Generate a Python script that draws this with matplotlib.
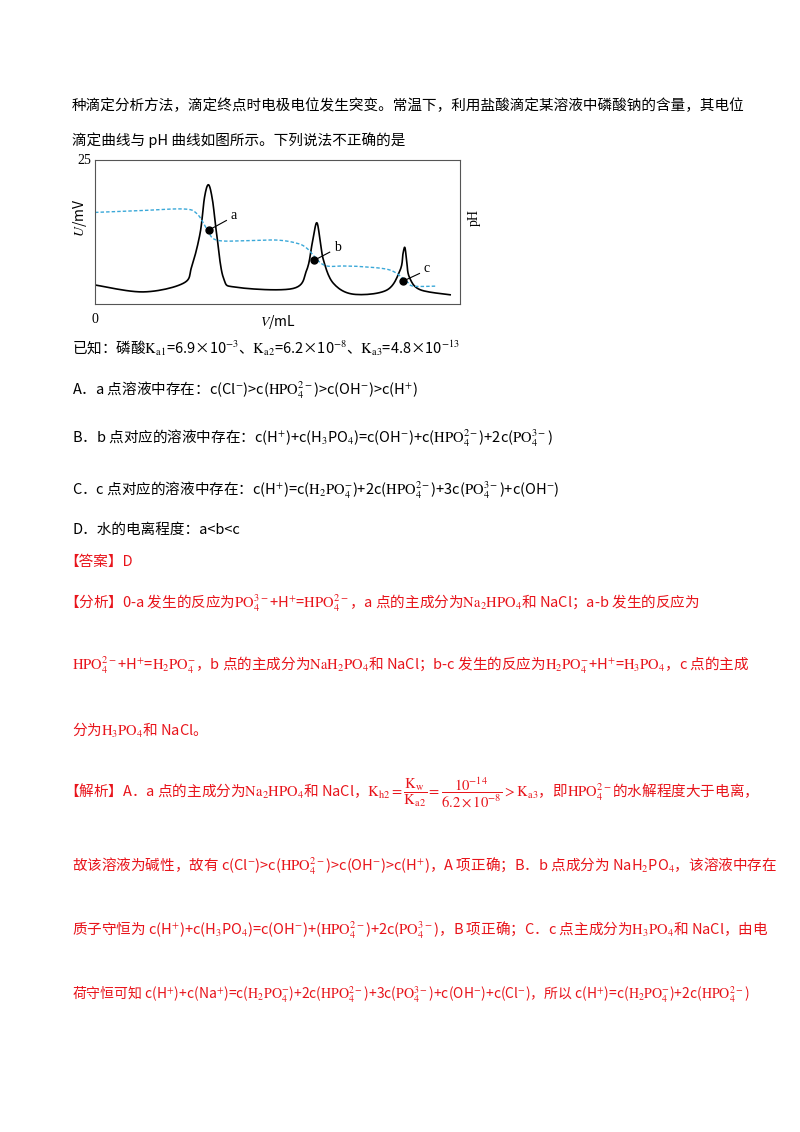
import matplotlib
matplotlib.use("Agg")
import matplotlib.pyplot as plt
import numpy as np

plt.rcParams['font.family'] = ['Noto Sans CJK SC', 'DejaVu Sans']
plt.rcParams['mathtext.fontset'] = 'stix'

# black potential curve (V, U)
u_x = [0, 13.2, 24.2, 26.5, 28.8, 30.0, 31.1, 32.2, 33.3, 35.2, 38.8, 54.3, 58.0, 59.5, 60.7, 61.6, 62.6, 65.3, 70.8, 79.9, 83.6, 84.4, 84.9, 85.4, 86.1, 89.0, 97.3]
u_y = [3.3, 2.1, 3.6, 6.5, 12.3, 18.5, 20.7, 18.0, 12.3, 4.5, 2.9, 2.7, 5.9, 10.5, 14.1, 11.5, 7.6, 3.6, 1.7, 2.4, 5.9, 8.8, 9.8, 7.5, 4.7, 2.5, 1.6]
# blue dashed pH curve
ph_x = [0, 12, 24.2, 27.9, 30.6, 33.3, 42, 49.8, 55, 58.0, 62.6, 68, 72.6, 80.8, 85.4, 87.2, 93.2]
ph_y = [15.9, 16.2, 16.5, 15.7, 13.1, 11.1, 11.0, 11.1, 10.6, 9.7, 6.8, 6.6, 6.5, 5.9, 3.9, 3.1, 3.1]
pt_labels = ['a', 'b', 'c']
pt_x = [31.1, 60.1, 84.5]
pt_y = [12.8, 7.6, 4.0]
lab_x = [37.2, 65.5, 90.1]
lab_y = [15.3, 9.8, 6.1]

def smooth(xs, ys, n=12):
    # Catmull-Rom rendering through the given points
    P = np.column_stack([xs, ys]).astype(float)
    P = np.vstack([P[0], P, P[-1]])
    out = []
    t = np.linspace(0, 1, n, endpoint=False)[:, None]
    for i in range(1, len(P) - 2):
        p0, p1, p2, p3 = P[i-1], P[i], P[i+1], P[i+2]
        seg = 0.5 * ((2*p1) + (-p0 + p2)*t + (2*p0 - 5*p1 + 4*p2 - p3)*t**2 + (-p0 + 3*p1 - 3*p2 + p3)*t**3)
        out.append(seg)
    out.append(P[-2][None, :])
    out = np.vstack(out)
    return out[:, 0], out[:, 1]

W, H = 800, 1132
fig = plt.figure(figsize=(8, 11.32), dpi=100)
ax = fig.add_axes([95/W, 1-304/H, 365/W, 144/H])
ax.set_xlim(0, 100); ax.set_ylim(0, 25)
ax.plot(*smooth(u_x, u_y), color='black', lw=1.2)
ax.plot(*smooth(ph_x, ph_y), color='#3aa8d8', lw=1.0, ls=(0, (2.5, 1.5)))
for l, x, y, lx, ly in zip(pt_labels, pt_x, pt_y, lab_x, lab_y):
    ax.plot(x, y, 'o', color='black', ms=5)
    ax.plot([x, lx - 1.2], [y, ly - 0.8], color='black', lw=0.8)
    ax.text(lx, ly, l, fontsize=10, family='Liberation Serif', va='center', ha='left')
ax.set_xticks([]); ax.set_yticks([])
for s in ax.spines.values():
    s.set_color('#555555')
ax.text(-0.01, 1.0, '25', transform=ax.transAxes, ha='right', va='center', fontsize=10, family='Liberation Serif')
ax.text(0.0, -0.06, '0', transform=ax.transAxes, ha='center', va='top', fontsize=10, family='Liberation Serif')
ax.text(0.5, -0.06, '$\\it{V}$/mL', transform=ax.transAxes, ha='center', va='top', fontsize=10)
ax.text(-0.04, 0.6, '$\\it{U}$/mV', transform=ax.transAxes, ha='center', va='center', rotation=90, fontsize=10)
ax.text(1.04, 0.6, 'pH', transform=ax.transAxes, ha='center', va='center', rotation=90, fontsize=10, family='Liberation Serif')

RED = '#e8141b'
def t(y, s, x=72, c='black', fs=10.5):
    fig.text(x/W, 1-y/H, s, color=c, fontsize=fs, va='center', ha='left')

t(106, '种滴定分析方法，滴定终点时电极电位发生突变。常温下，利用盐酸滴定某溶液中磷酸钠的含量，其电位')
t(140, '滴定曲线与 pH 曲线如图所示。下列说法不正确的是')
t(348, r'已知：磷酸$\mathrm{K_{a1}}$=6.9×10$^{-3}$、$\mathrm{K_{a2}}$=6.2×10$^{-8}$、$\mathrm{K_{a3}}$=4.8×10$^{-13}$')
t(390, r'A．a 点溶液中存在：c(Cl$^{-}$)>c($\mathrm{HPO_4^{2-}}$)>c(OH$^{-}$)>c(H$^{+}$)')
t(438, r'B．b 点对应的溶液中存在：c(H$^{+}$)+c(H$_3$PO$_4$)=c(OH$^{-}$)+c($\mathrm{HPO_4^{2-}}$)+2c($\mathrm{PO_4^{3-}}$)')
t(490, r'C．c 点对应的溶液中存在：c(H$^{+}$)=c($\mathrm{H_2PO_4^{-}}$)+2c($\mathrm{HPO_4^{2-}}$)+3c($\mathrm{PO_4^{3-}}$)+c(OH$^{-}$)')
t(530, 'D．水的电离程度：a<b<c')
t(562, '【答案】D', x=64, c=RED)
t(603, r'【分析】0-a 发生的反应为$\mathrm{PO_4^{3-}}$+H$^{+}$=$\mathrm{HPO_4^{2-}}$，a 点的主成分为$\mathrm{Na_2HPO_4}$和 NaCl；a-b 发生的反应为', x=64, c=RED)
t(665, r'$\mathrm{HPO_4^{2-}}$+H$^{+}$=$\mathrm{H_2PO_4^{-}}$，b 点的主成分为$\mathrm{NaH_2PO_4}$和 NaCl；b-c 发生的反应为$\mathrm{H_2PO_4^{-}}$+H$^{+}$=$\mathrm{H_3PO_4}$，c 点的主成', x=72, c=RED)
t(730, r'分为$\mathrm{H_3PO_4}$和 NaCl。', x=72, c=RED)
t(793, r'【解析】A．a 点的主成分为$\mathrm{Na_2HPO_4}$和 NaCl，$\mathrm{K_{h2}}=\dfrac{\mathrm{K_w}}{\mathrm{K_{a2}}}=\dfrac{10^{-14}}{6.2\times10^{-8}}>\mathrm{K_{a3}}$，即$\mathrm{HPO_4^{2-}}$的水解程度大于电离，', x=64, c=RED)
t(866, r'故该溶液为碱性，故有 c(Cl$^{-}$)>c($\mathrm{HPO_4^{2-}}$)>c(OH$^{-}$)>c(H$^{+}$)，A 项正确；B．b 点成分为 NaH$_2$PO$_4$，该溶液中存在', x=72, c=RED)
t(930, r'质子守恒为 c(H$^{+}$)+c(H$_3$PO$_4$)=c(OH$^{-}$)+($\mathrm{HPO_4^{2-}}$)+2c($\mathrm{PO_4^{3-}}$)，B 项正确；C．c 点主成分为$\mathrm{H_3PO_4}$和 NaCl，由电', x=72, c=RED)
t(995, r'荷守恒可知 c(H$^{+}$)+c(Na$^{+}$)=c($\mathrm{H_2PO_4^{-}}$)+2c($\mathrm{HPO_4^{2-}}$)+3c($\mathrm{PO_4^{3-}}$)+c(OH$^{-}$)+c(Cl$^{-}$)，所以 c(H$^{+}$)=c($\mathrm{H_2PO_4^{-}}$)+2c($\mathrm{HPO_4^{2-}}$)', x=72, c=RED, fs=10)

fig.savefig('out.png', dpi=100)
